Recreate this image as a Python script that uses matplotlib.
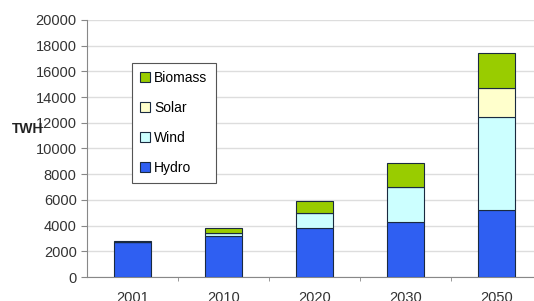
import matplotlib
matplotlib.use("Agg")
import matplotlib.pyplot as plt
import numpy as np

plt.rcParams['font.family'] = ['Liberation Sans', 'DejaVu Sans']

years = ["2001", "2010", "2020", "2030", "2050"]
hydro = [2700, 3200, 3800, 4300, 5200]
wind = [0, 200, 1150, 2700, 7250]
solar = [0, 0, 0, 0, 2250]
biomass = [100, 400, 930, 1900, 2700]

series = [("Hydro", hydro, "#2f5ff2"),
          ("Wind", wind, "#ccffff"),
          ("Solar", solar, "#ffffcc"),
          ("Biomass", biomass, "#99cc00")]

fig = plt.figure(figsize=(5.34, 3.01), dpi=100)
ax = fig.add_axes([0.163, 0.0797, 0.837, 0.854])

x = np.arange(len(years))
bottom = np.zeros(len(years))
handles = []
for name, vals, col in series:
    b = ax.bar(x, vals, 0.4, bottom=bottom, color=col, edgecolor="#1a2a40",
               linewidth=0.8, label=name, zorder=3)
    bottom += np.array(vals)
    handles.append(b)

ax.set_ylim(0, 20000)
ax.set_xlim(-0.5, 4.41)
ax.set_yticks(range(0, 20001, 2000))
ax.set_xticks(x)
ax.set_xticklabels(years)
ax.set_xticks(x[:-1] + 0.5, minor=True)
ax.tick_params(axis="x", which="major", length=0, pad=10, labelsize=10.5, colors="#333333")
ax.tick_params(axis="x", which="minor", length=3, color="#888888", direction="out")
ax.tick_params(axis="y", length=4, color="#888888", labelsize=10.5, colors="#333333")
ax.yaxis.grid(True, color="#dddddd", linewidth=1, zorder=0)
ax.set_axisbelow(True)
for s in ["top", "right"]:
    ax.spines[s].set_visible(False)
for s in ["left", "bottom"]:
    ax.spines[s].set_color("#888888")

fig.text(0.022, 0.573, "TWH", fontsize=10, fontweight="bold", color="#222222", va="center")

leg = ax.legend(handles[::-1], [s[0] for s in series][::-1],
                loc="upper left", bbox_to_anchor=(0.1, 0.833), borderaxespad=0,
                fontsize=10, handlelength=0.7, handleheight=0.7, handletextpad=0.3,
                labelspacing=1.15, borderpad=0.6, fancybox=False, framealpha=1)
leg.get_frame().set_edgecolor("#555555")
leg.get_frame().set_linewidth(0.8)

fig.savefig("out.png", dpi=100)
